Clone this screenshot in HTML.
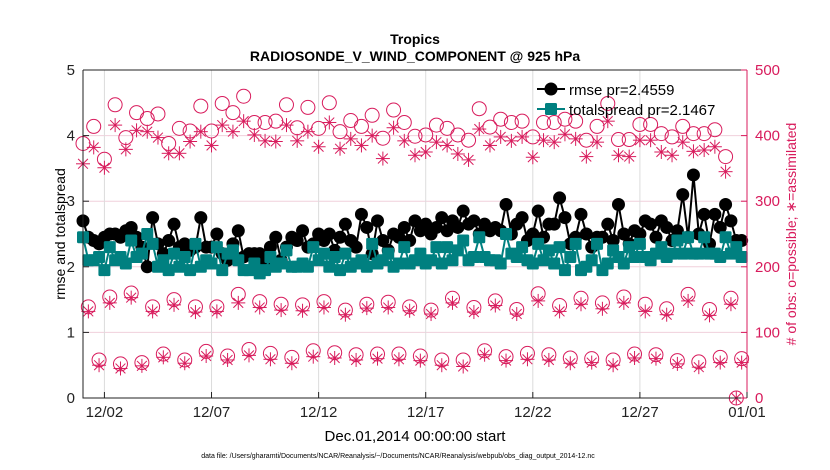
<!DOCTYPE html>
<html><head><meta charset="utf-8">
<style>
html,body{margin:0;padding:0;background:#fff;}
svg{display:block;font-family:"Liberation Sans",Arial,sans-serif;}
</style></head>
<body>
<svg id="chart" width="830" height="470" viewBox="0 0 830 470">
<rect width="830" height="470" fill="#fff"/>
<text x="415" y="44" text-anchor="middle" font-size="14" font-weight="bold">Tropics</text>
<text x="415" y="61" text-anchor="middle" font-size="14" font-weight="bold">RADIOSONDE_V_WIND_COMPONENT @ 925 hPa</text>
<g id="grid"></g>
<g id="obs"></g>
<g id="series"></g>
<g id="axes"></g>
<text transform="translate(65,234) rotate(-90)" text-anchor="middle" font-size="14">rmse and totalspread</text>
<text transform="translate(796,234) rotate(-90)" text-anchor="middle" font-size="14" fill="#d81b5c"># of obs: o=possible; ∗=assimilated</text>
<text x="415" y="441" text-anchor="middle" font-size="15">Dec.01,2014 00:00:00 start</text>
<text x="398" y="458" text-anchor="middle" font-size="7">data file: /Users/gharamti/Documents/NCAR/Reanalysis/~/Documents/NCAR/Reanalysis/webpub/obs_diag_output_2014-12.nc</text>
<g id="legend"></g>
</svg>
<script>
const rmse=[2.7,2.45,2.4,2.35,2.45,2.5,2.5,2.45,2.55,2.6,2.45,2.3,2.0,2.75,2.35,2.2,2.4,2.65,2.3,2.35,2.25,2.3,2.75,2.3,
2.3,2.5,2.2,2.1,2.35,2.55,2.15,2.2,2.2,2.2,2.1,2.3,2.45,2.1,2.3,2.45,2.4,2.55,2.3,2.35,
2.5,2.4,2.5,2.25,2.45,2.65,2.4,2.3,2.8,2.6,2.2,2.7,2.4,2.25,2.5,2.45,2.6,2.4,2.7,2.55,
2.65,2.5,2.6,2.75,2.55,2.7,2.6,2.85,2.65,2.7,2.5,2.65,2.55,2.6,2.55,2.95,2.5,2.65,2.75,2.4,
2.5,2.85,2.45,2.65,2.65,3.05,2.75,2.35,2.45,2.8,2.5,2.3,2.45,2.45,2.65,2.4,2.95,2.5,2.35,2.55,
2.5,2.7,2.65,2.45,2.7,2.6,2.4,2.55,3.1,2.45,3.4,2.5,2.8,2.35,2.8,2.6,2.95,2.7,2.4,2.4];
const spread=[2.45,2.1,2.1,2.15,1.95,2.3,2.1,2.15,2.05,2.4,2.15,2.2,2.5,2.35,2.0,2.1,1.95,2.2,2.0,2.15,1.95,2.35,2.0,2.1,
2.05,2.3,1.95,2.2,2.25,2.1,1.95,1.95,2.05,1.9,1.95,2.15,2.0,2.05,2.25,2.0,2.0,2.05,2.0,2.3,
2.1,2.2,2.0,2.15,1.95,2.2,2.0,2.05,2.1,2.0,2.35,2.05,2.1,2.2,2.0,2.05,2.3,2.05,2.1,2.2,
2.05,2.1,2.3,2.05,2.3,2.1,2.25,2.4,2.1,2.15,2.45,2.15,2.1,2.1,2.05,2.5,2.2,2.15,2.3,2.1,
2.05,2.35,2.1,2.25,2.05,2.3,1.95,2.15,2.35,1.95,2.0,2.1,2.35,1.95,2.05,2.25,2.15,2.05,2.3,2.15,
2.35,2.15,2.1,2.2,2.3,2.15,2.2,2.4,2.2,2.45,2.2,2.2,2.45,2.2,2.2,2.15,2.45,2.2,2.3,2.15];
// obs counts at 00Z/12Z (every half day, last = 01/01 00Z)
const possMain=[388,414,364,447,397,435,426,433,388,411,407,445,407,449,435,460,420,420,422,447,412,443,
411,450,406,423,414,431,396,439,420,399,401,416,411,401,393,441,413,425,420,
422,398,420,420,425,422,393,414,449,394,394,417,417,403,398,414,403,403,409,368,0];
const assimMain=[357,382,351,416,379,408,406,397,373,373,391,406,385,416,406,422,401,392,391,416,392,406,
383,420,380,395,385,400,365,412,392,370,375,390,385,372,363,410,385,398,392,
398,367,393,390,402,395,368,390,422,370,368,393,393,375,370,390,376,378,383,345,0];
// 06Z counts (one per day)
const poss06=[139,154,160,139,150,139,139,158,147,143,142,147,134,143,146,139,134,152,138,148,135,159,141,152,145,154,143,136,158,135,152];
const assim06=[132,145,153,132,142,131,132,145,138,134,133,138,127,137,138,133,128,145,131,141,128,148,132,143,136,145,132,127,148,126,143];
// 18Z counts (one per day)
const poss18=[58,52,54,67,58,71,64,74,68,62,72,69,66,67,67,64,58,58,72,63,68,66,61,60,58,67,66,57,55,62,60];
const assim18=[50,45,49,62,53,64,58,65,59,53,63,61,58,60,59,57,50,48,66,57,59,58,53,54,50,61,60,52,47,54,54];
const yTicks=[0,1,2,3,4,5];
const rTicks=[0,100,200,300,400,500];
const xTickDays=[1,6,11,16,21,26,31];
const xTickLabels=["12/02","12/07","12/12","12/17","12/22","12/27","01/01"];

const NS="http://www.w3.org/2000/svg";
const L=83,R=747,T=70,B=398,DAYS=31;
const RED="#d81b5c",TEAL="#008080";
function X(d){return L+(R-L)*d/DAYS;}
function Y(v){return B-(B-T)*v/5;}
function YR(v){return B-(B-T)*v/500;}
function mk(tag,attrs,parent){const e=document.createElementNS(NS,tag);for(const k in attrs)e.setAttribute(k,attrs[k]);parent.appendChild(e);return e;}
const grid=document.getElementById('grid'),axes=document.getElementById('axes'),obs=document.getElementById('obs'),ser=document.getElementById('series'),leg=document.getElementById('legend');

yTicks.forEach(v=>{if(v>0&&v<5){const g=mk('line',{x1:L,x2:R,y1:Y(v),y2:Y(v),stroke:'#f0d0dc','stroke-width':1},grid);

}});
xTickDays.forEach(d=>{if(d<DAYS){const g=mk('line',{x1:X(d),x2:X(d),y1:T,y2:B,stroke:'#dcdcdc','stroke-width':1},grid);

}});

function circ(cx,cy,r,color,parent,name){const c=mk('circle',{cx:cx,cy:cy,r:r,fill:'none',stroke:color,'stroke-width':1},parent);

}
function star(cx,cy,s,color,parent,name){const g=mk('g',{stroke:color,'stroke-width':1},parent);


mk('line',{x1:cx-s,x2:cx+s,y1:cy,y2:cy},g);mk('line',{x1:cx,x2:cx,y1:cy-s,y2:cy+s},g);
const d=s*0.7;mk('line',{x1:cx-d,x2:cx+d,y1:cy-d,y2:cy+d},g);mk('line',{x1:cx-d,x2:cx+d,y1:cy+d,y2:cy-d},g);}

possMain.forEach((v,i)=>circ(X(i*0.5),YR(v),7,RED,obs,'possible-obs-point'));
assimMain.forEach((v,i)=>star(X(i*0.5),YR(v),7,RED,obs,'assimilated-obs-point'));
poss06.forEach((v,i)=>circ(X(i+0.25),YR(v),7,RED,obs,'possible-obs-point'));
assim06.forEach((v,i)=>star(X(i+0.25),YR(v),7,RED,obs,'assimilated-obs-point'));
poss18.forEach((v,i)=>circ(X(i+0.75),YR(v),7,RED,obs,'possible-obs-point'));
assim18.forEach((v,i)=>star(X(i+0.75),YR(v),7,RED,obs,'assimilated-obs-point'));

function path(vals){return vals.map((v,i)=>(i?'L':'M')+X(i*0.25).toFixed(1)+','+Y(v).toFixed(1)).join('');}
const rl=mk('path',{d:path(rmse),fill:'none',stroke:'#000','stroke-width':2},ser);


rmse.forEach((v,i)=>{const c=mk('circle',{cx:X(i*0.25),cy:Y(v),r:6.5,fill:'#000'},ser);

});
const sl=mk('path',{d:path(spread),fill:'none',stroke:TEAL,'stroke-width':2},ser);


spread.forEach((v,i)=>{const c=mk('rect',{x:X(i*0.25)-6,y:Y(v)-6,width:12,height:12,rx:1.5,fill:TEAL},ser);

});

// axes
const ax=mk('path',{d:`M${L},${T}L${L},${B}L${R},${B}M${L},${T}L${R},${T}`,fill:'none',stroke:'#222','stroke-width':1},axes);


const ra=mk('line',{x1:R,x2:R,y1:T,y2:B,stroke:RED,'stroke-width':1},axes);


yTicks.forEach(v=>{mk('line',{x1:L,x2:L+6,y1:Y(v),y2:Y(v),stroke:'#222'},axes);
const t=mk('text',{x:L-8,y:Y(v)+5,'text-anchor':'end','font-size':15,fill:'#222'},axes);t.textContent=v;

});
rTicks.forEach(v=>{mk('line',{x1:R,x2:R-6,y1:YR(v),y2:YR(v),stroke:RED},axes);
const t=mk('text',{x:R+8,y:YR(v)+5,'font-size':15,fill:RED},axes);t.textContent=v;

});
xTickDays.forEach((d,i)=>{mk('line',{x1:X(d),x2:X(d),y1:B,y2:B-6,stroke:'#222'},axes);
const t=mk('text',{x:X(d),y:B+19,'text-anchor':'middle','font-size':15,fill:'#222'},axes);t.textContent=xTickLabels[i];

});

// legend
mk('line',{x1:537,x2:565,y1:89,y2:89,stroke:'#000','stroke-width':2},leg);
mk('circle',{cx:551,cy:89,r:6.5,fill:'#000'},leg);
const lt1=mk('text',{x:569,y:95,'font-size':15},leg);lt1.textContent='rmse pr=2.4559';


mk('line',{x1:537,x2:565,y1:109,y2:109,stroke:TEAL,'stroke-width':2},leg);
mk('rect',{x:545,y:103,width:12,height:12,rx:1.5,fill:TEAL},leg);
const lt2=mk('text',{x:569,y:115,'font-size':15},leg);lt2.textContent='totalspread pr=2.1467';


</script>
</body></html>
